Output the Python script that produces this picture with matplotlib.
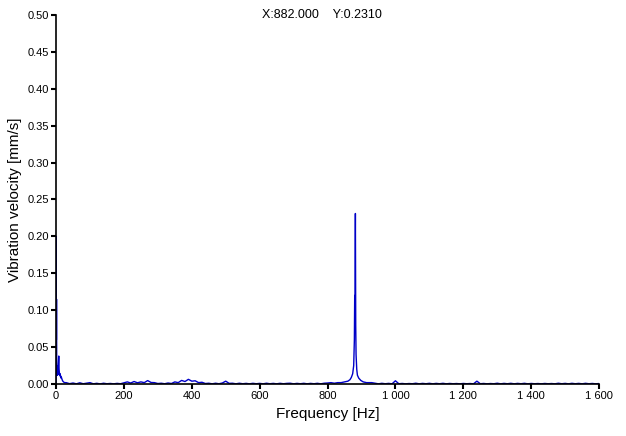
import matplotlib
matplotlib.use("Agg")
import matplotlib.pyplot as plt
import numpy as np

plt.rcParams['font.family'] = ['Liberation Sans', 'DejaVu Sans']

# spectrum, split in segments
freq_low = [0, 0.5, 1, 1.5, 2, 2.5, 3, 3.5, 4, 5, 6, 7, 8, 9, 10, 11, 12, 13, 14, 15, 16, 18, 20, 22, 25, 28]
amp_low = [0.0, 0.20, 0.06, 0.115, 0.03, 0.02, 0.025, 0.015, 0.012, 0.018, 0.013, 0.028, 0.038, 0.02,
           0.015, 0.012, 0.014, 0.010, 0.011, 0.008, 0.009, 0.006, 0.004, 0.003, 0.002, 0.002]

freq_mid = [30, 40, 50, 60, 70, 80, 90, 100, 110, 120, 130, 140, 150, 160, 170, 180, 190, 200,
            210, 220, 230, 240, 250, 260, 270, 280, 290, 300, 310, 320, 330, 340, 350, 360, 370,
            380, 390, 400, 410, 420, 430, 440, 450, 460, 470, 480, 490, 500, 510, 520, 530, 540,
            550, 560, 570, 580, 590, 600, 610, 620, 630, 640, 650, 660, 670, 680, 690, 700, 710,
            720, 730, 740, 750, 760, 770, 780, 790, 800, 810, 820, 830]
amp_mid = [0.0020, 0.0006, 0.0015, 0.0004, 0.0018, 0.0005, 0.0012, 0.0020, 0.0004, 0.0011, 0.0003,
           0.0012, 0.0005, 0.0009, 0.0004, 0.0010, 0.0005, 0.0018, 0.0030, 0.0015, 0.0035, 0.0018,
           0.0030, 0.0020, 0.0048, 0.0022, 0.0020, 0.0008, 0.0012, 0.0005, 0.0015, 0.0008, 0.0030,
           0.0020, 0.0050, 0.0035, 0.0065, 0.0040, 0.0045, 0.0020, 0.0025, 0.0008, 0.0012, 0.0004,
           0.0012, 0.0005, 0.0015, 0.0040, 0.0010, 0.0012, 0.0004, 0.0012, 0.0005, 0.0010, 0.0004,
           0.0011, 0.0005, 0.0010, 0.0004, 0.0012, 0.0005, 0.0010, 0.0004, 0.0011, 0.0005, 0.0010,
           0.0012, 0.0004, 0.0010, 0.0005, 0.0011, 0.0004, 0.0010, 0.0005, 0.0011, 0.0004, 0.0012,
           0.0015, 0.0020, 0.0012, 0.0020]

freq_peak = [840, 850, 860, 866, 870, 874, 877, 879, 880, 881, 882, 883, 884, 886, 888, 892, 898, 905, 915, 930]
amp_peak = [0.0020, 0.0030, 0.0040, 0.0060, 0.0090, 0.0140, 0.0250, 0.0600, 0.1200, 0.1200, 0.2310,
            0.0800, 0.0400, 0.0200, 0.0120, 0.0080, 0.0050, 0.0030, 0.0020, 0.0020]

freq_high = [940, 950, 960, 970, 980, 990, 1000, 1010, 1020, 1030, 1040, 1050, 1060, 1070, 1080, 1090,
             1100, 1110, 1120, 1130, 1140, 1150, 1160, 1170, 1180, 1190, 1200, 1210, 1220, 1230, 1240,
             1250, 1260, 1270, 1280, 1290, 1300, 1310, 1320, 1330, 1340, 1350, 1360, 1370, 1380, 1390,
             1400, 1410, 1420, 1430, 1440, 1450, 1460, 1470, 1480, 1490, 1500, 1510, 1520, 1530, 1540,
             1550, 1560, 1570, 1580, 1590, 1600]
amp_high = [0.0012, 0.0004, 0.0011, 0.0005, 0.0010, 0.0004, 0.0045, 0.0005, 0.0009, 0.0004, 0.0008,
            0.0005, 0.0012, 0.0004, 0.0010, 0.0005, 0.0011, 0.0004, 0.0010, 0.0005, 0.0011, 0.0004,
            0.0009, 0.0005, 0.0008, 0.0004, 0.0009, 0.0005, 0.0008, 0.0004, 0.0040, 0.0005, 0.0009,
            0.0004, 0.0008, 0.0005, 0.0012, 0.0004, 0.0010, 0.0005, 0.0011, 0.0004, 0.0010, 0.0005,
            0.0011, 0.0004, 0.0009, 0.0005, 0.0008, 0.0004, 0.0009, 0.0005, 0.0008, 0.0004, 0.0012,
            0.0005, 0.0010, 0.0004, 0.0011, 0.0005, 0.0010, 0.0004, 0.0011, 0.0005, 0.0009, 0.0004, 0.0008]

x_ticks = [0, 200, 400, 600, 800, 1000, 1200, 1400, 1600]
x_labels = ['0', '200', '400', '600', '800', '1 000', '1 200', '1 400', '1 600']
y_ticks = [0.00, 0.05, 0.10, 0.15, 0.20, 0.25, 0.30, 0.35, 0.40, 0.45, 0.50]
cursor_text = 'X:882.000    Y:0.2310'

freq = np.array(freq_low + freq_mid + freq_peak + freq_high)
amp = np.array(amp_low + amp_mid + amp_peak + amp_high)

fig = plt.figure(figsize=(6.26, 4.36), dpi=100)
ax = fig.add_axes([0.0895, 0.119, 0.8675, 0.847])
ax.plot(freq, amp, color='#0000c8', lw=1.0)

ax.set_xlim(0, 1600)
ax.set_ylim(0, 0.5)
ax.set_xticks(x_ticks)
ax.set_xticklabels(x_labels)
ax.set_yticks(y_ticks)
ax.set_yticklabels(['%.2f' % v for v in y_ticks])
for s in ['top', 'right']:
    ax.spines[s].set_visible(False)
for s in ['left', 'bottom']:
    ax.spines[s].set_linewidth(1.2)
ax.tick_params(direction='out', length=3.5, width=1.5, labelsize=8, pad=1.5)
ax.set_xlabel('Frequency [Hz]', fontsize=11, labelpad=4)
ax.set_ylabel('Vibration velocity [mm/s]', fontsize=11, labelpad=4)

fig.text(0.514, 0.965, cursor_text, fontsize=9, ha='center', va='center')

fig.savefig('out.png', dpi=100)
